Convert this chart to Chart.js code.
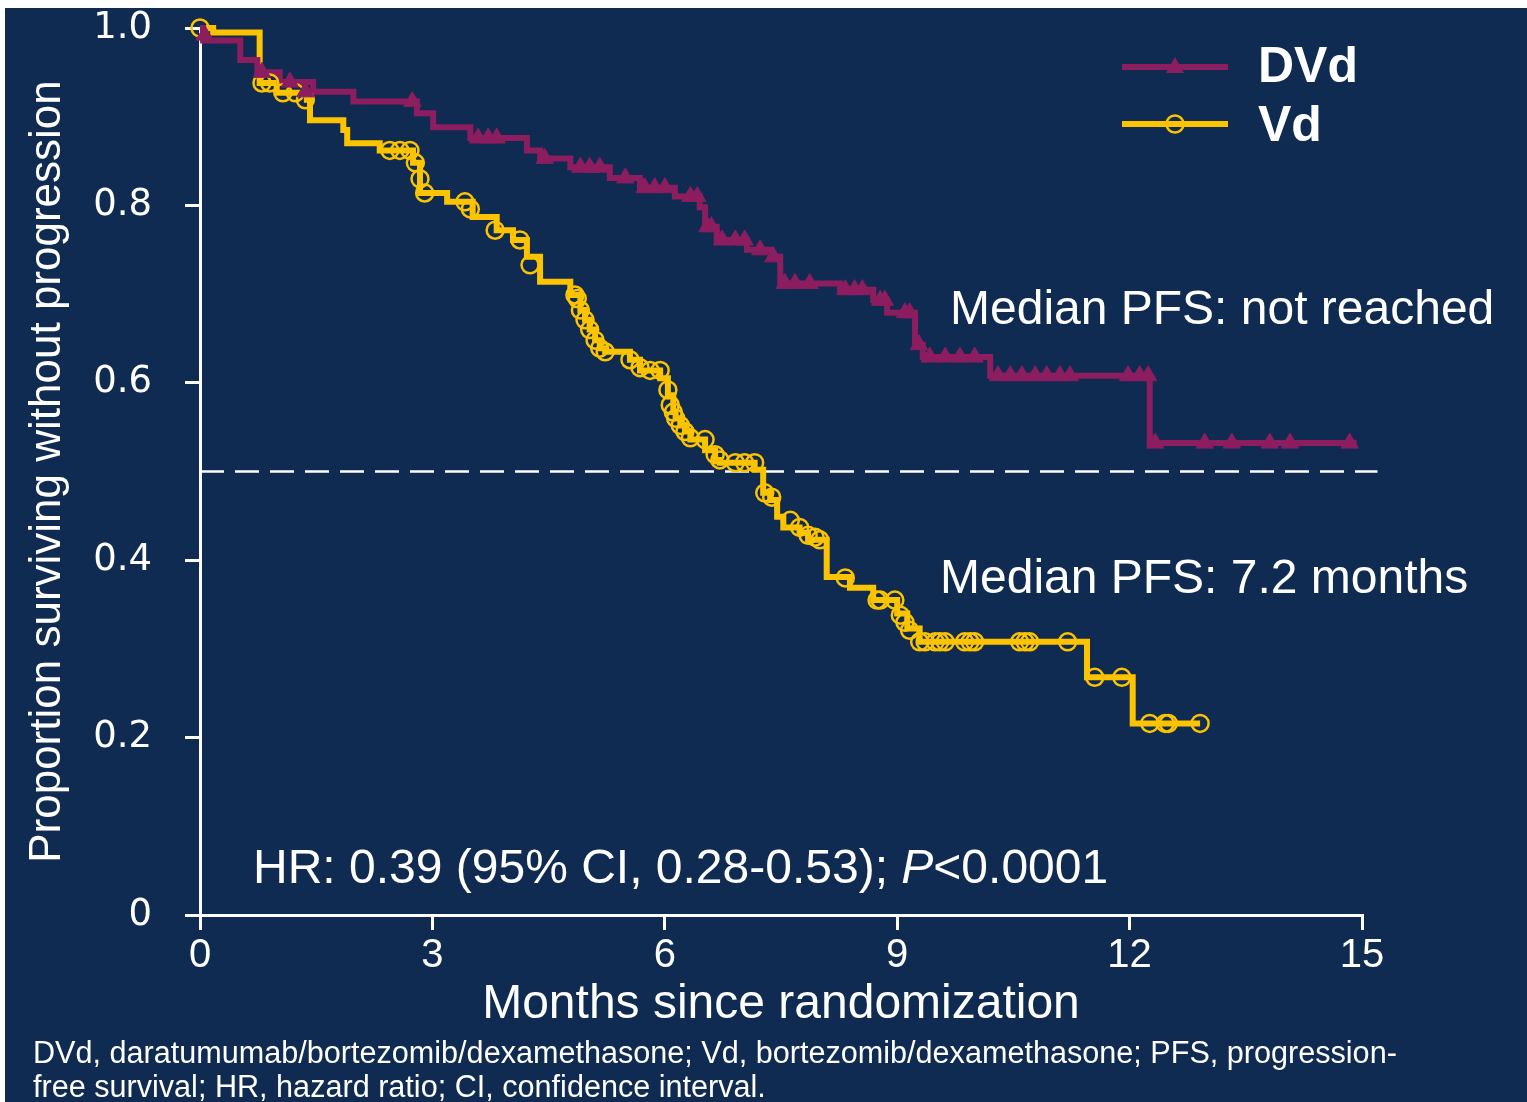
<!DOCTYPE html>
<html>
<head>
<meta charset="utf-8">
<script src="https://cdn.jsdelivr.net/npm/chart.js@4.4.1/dist/chart.umd.min.js"></script>
<style>
html,body{margin:0;padding:0;background:#ffffff;}
#wrap{position:relative;width:1527px;height:1102px;overflow:hidden;}
#bg{position:absolute;left:5px;top:8px;right:0;bottom:0;background:#102b52;}
#c{position:absolute;left:0;top:0;}
.t{position:absolute;color:#ffffff;font-family:"Liberation Sans",Arial,sans-serif;white-space:nowrap;}
.lgsvg{position:absolute;}
</style>
</head>
<body>
<div id="wrap">
  <div id="bg"></div>
  <canvas id="c" width="1527" height="1102"></canvas>
  <svg class="lgsvg" id="lgDVd" style="left:1120px;top:52px" width="112" height="30"></svg>
  <div class="t" style="left:1258px;top:40px;font-size:50px;line-height:50px;font-weight:bold;">DVd</div>
  <svg class="lgsvg" id="lgVd" style="left:1120px;top:109px" width="112" height="30"></svg>
  <div class="t" style="left:1258px;top:99px;font-size:50px;line-height:50px;font-weight:bold;">Vd</div>
  <div class="t" style="left:950px;top:284px;font-size:48px;line-height:48px;">Median PFS: not reached</div>
  <div class="t" style="left:940px;top:553px;font-size:48px;line-height:48px;">Median PFS: 7.2 months</div>
  <div class="t" style="left:253px;top:843px;font-size:48px;line-height:48px;">HR: 0.39 (95% CI, 0.28-0.53); <i>P</i>&lt;0.0001</div>
  <div class="t" style="left:33px;top:1035px;font-size:30.6px;line-height:34px;">DVd, daratumumab/bortezomib/dexamethasone; Vd, bortezomib/dexamethasone; PFS, progression-<br>free survival; HR, hazard ratio; CI, confidence interval.</div>
</div>
<script>
// ---- Data ----
const seriesNames = ['DVd', 'Vd'];

const dvdTimes = [0, 0.04, 0.52, 0.74, 1.03, 1.46, 1.98, 2.80, 3.01, 3.49, 4.22, 4.39, 4.78, 5.29, 5.68, 6.13, 6.45, 6.52, 6.67, 7.06, 7.38, 7.49, 8.26, 8.69, 8.87, 9.23, 9.33, 10.20, 12.26, 14.93];
const dvdSurv  = [1.000, 0.986, 0.964, 0.950, 0.939, 0.928, 0.917, 0.904, 0.888, 0.876, 0.862, 0.853, 0.843, 0.831, 0.820, 0.810, 0.798, 0.776, 0.761, 0.750, 0.742, 0.712, 0.705, 0.693, 0.679, 0.643, 0.629, 0.608, 0.532, 0.532];

const vdTimes = [0, 0.17, 0.77, 0.99, 1.38, 1.42, 1.85, 1.90, 2.32, 2.75, 2.84, 3.19, 3.52, 3.83, 4.04, 4.22, 4.39, 4.78, 4.91, 4.97, 5.03, 5.10, 5.16, 5.23, 5.55, 5.68, 5.94, 6.04, 6.11, 6.14, 6.20, 6.26, 6.33, 6.52, 6.65, 6.71, 7.16, 7.27, 7.36, 7.45, 7.53, 7.74, 7.85, 8.09, 8.39, 8.69, 9.00, 9.13, 9.29, 11.45, 12.04, 12.91];
const vdSurv  = [1.000, 0.995, 0.938, 0.927, 0.919, 0.896, 0.885, 0.870, 0.862, 0.848, 0.814, 0.804, 0.787, 0.772, 0.761, 0.742, 0.714, 0.699, 0.682, 0.671, 0.660, 0.648, 0.639, 0.635, 0.626, 0.614, 0.605, 0.586, 0.567, 0.560, 0.552, 0.545, 0.536, 0.524, 0.513, 0.510, 0.502, 0.476, 0.468, 0.449, 0.437, 0.431, 0.423, 0.381, 0.369, 0.355, 0.340, 0.323, 0.308, 0.268, 0.216, 0.216];

const dvdCensorT = [0.06, 0.80, 1.16, 1.36, 2.74, 3.59, 3.72, 3.83, 4.45, 4.91, 5.03, 5.16, 5.49, 5.74, 5.87, 6.00, 6.33, 6.42, 6.55, 6.60, 6.74, 6.91, 7.03, 7.23, 7.40, 7.55, 7.68, 7.87, 8.33, 8.45, 8.55, 8.78, 8.84, 9.10, 9.16, 9.28, 9.42, 9.62, 9.81, 10.00, 10.30, 10.46, 10.61, 10.78, 10.93, 11.10, 11.23, 11.98, 12.13, 12.24, 12.33, 12.97, 13.32, 13.81, 14.07, 14.84];
const dvdCensorS = [0.992, 0.950, 0.939, 0.928, 0.917, 0.876, 0.876, 0.876, 0.853, 0.843, 0.843, 0.843, 0.831, 0.820, 0.820, 0.820, 0.810, 0.810, 0.776, 0.776, 0.761, 0.761, 0.761, 0.750, 0.742, 0.712, 0.712, 0.712, 0.705, 0.705, 0.705, 0.693, 0.693, 0.679, 0.679, 0.643, 0.629, 0.629, 0.629, 0.629, 0.608, 0.608, 0.608, 0.608, 0.608, 0.608, 0.608, 0.608, 0.608, 0.608, 0.532, 0.532, 0.532, 0.532, 0.532, 0.532];

const vdCensorT = [0.00, 0.80, 0.90, 1.07, 1.23, 1.36, 2.45, 2.58, 2.71, 2.78, 2.84, 2.90, 3.42, 3.49, 3.81, 4.13, 4.26, 4.84, 4.87, 4.91, 4.97, 5.03, 5.10, 5.16, 5.23, 5.55, 5.68, 5.81, 5.94, 6.04, 6.07, 6.11, 6.14, 6.20, 6.26, 6.33, 6.52, 6.65, 6.71, 6.91, 7.03, 7.16, 7.29, 7.38, 7.62, 7.74, 7.85, 7.94, 8.00, 8.33, 8.74, 8.78, 8.97, 9.04, 9.10, 9.16, 9.29, 9.36, 9.49, 9.55, 9.62, 9.87, 9.94, 10.00, 10.58, 10.65, 10.71, 11.20, 11.55, 11.90, 12.26, 12.46, 12.50, 12.91];
const vdCensorS = [1.000, 0.938, 0.938, 0.927, 0.927, 0.919, 0.862, 0.862, 0.862, 0.848, 0.830, 0.814, 0.804, 0.796, 0.772, 0.761, 0.733, 0.699, 0.695, 0.682, 0.671, 0.660, 0.648, 0.639, 0.635, 0.626, 0.617, 0.614, 0.614, 0.592, 0.575, 0.567, 0.560, 0.552, 0.545, 0.538, 0.536, 0.519, 0.513, 0.510, 0.510, 0.510, 0.476, 0.471, 0.445, 0.437, 0.428, 0.426, 0.423, 0.380, 0.355, 0.355, 0.355, 0.338, 0.330, 0.321, 0.308, 0.308, 0.308, 0.308, 0.308, 0.308, 0.308, 0.308, 0.308, 0.308, 0.308, 0.308, 0.268, 0.268, 0.216, 0.216, 0.216, 0.216];

const medianRefX = [0, 15.2];
const medianRefY = [0.5, 0.5];

const xTickValues = [0, 3, 6, 9, 12, 15];
const xTickLabels = ['0', '3', '6', '9', '12', '15'];
const yTickValues = [0, 0.2, 0.4, 0.6, 0.8, 1.0];
const yTickLabels = ['0', '0.2', '0.4', '0.6', '0.8', '1.0'];

// ---- Styles ----
const DVD_COLOR = '#8c1d5f';
const VD_COLOR = '#fcc300';
const WHITE = '#ffffff';
const ARIAL = '"Liberation Sans", Arial, sans-serif';

const toPts = (xs, ys) => xs.map((x, i) => ({x: x, y: ys[i]}));
const labelFor = (vals, labs, v) => {
  const i = vals.findIndex(t => Math.abs(t - v) < 1e-6);
  return i >= 0 ? labs[i] : '';
};

// legend samples
function legendSample(id, color, shape) {
  const svg = document.getElementById(id);
  const ns = 'http://www.w3.org/2000/svg';
  const line = document.createElementNS(ns, 'line');
  line.setAttribute('x1', 2); line.setAttribute('x2', 108);
  line.setAttribute('y1', 15); line.setAttribute('y2', 15);
  line.setAttribute('stroke', color); line.setAttribute('stroke-width', 6);
  svg.appendChild(line);
  if (shape === 'triangle') {
    const p = document.createElementNS(ns, 'polygon');
    p.setAttribute('points', '55,5 64,21 46,21');
    p.setAttribute('fill', color);
    svg.appendChild(p);
  } else {
    const c = document.createElementNS(ns, 'circle');
    c.setAttribute('cx', 55); c.setAttribute('cy', 15); c.setAttribute('r', 8.5);
    c.setAttribute('fill', 'none'); c.setAttribute('stroke', color); c.setAttribute('stroke-width', 2.5);
    svg.appendChild(c);
  }
}
legendSample('lgDVd', DVD_COLOR, 'triangle');
legendSample('lgVd', VD_COLOR, 'circle');

new Chart(document.getElementById('c'), {
  type: 'line',
  data: {
    datasets: [
      {
        label: seriesNames[0] + ' censored',
        data: toPts(dvdCensorT, dvdCensorS),
        showLine: false,
        pointStyle: 'triangle',
        pointRadius: 10,
        backgroundColor: DVD_COLOR,
        borderColor: DVD_COLOR,
        borderWidth: 1,
        clip: false
      },
      {
        label: seriesNames[1] + ' censored',
        data: toPts(vdCensorT, vdCensorS),
        showLine: false,
        pointStyle: 'circle',
        pointRadius: 8.5,
        backgroundColor: 'rgba(0,0,0,0)',
        borderColor: VD_COLOR,
        borderWidth: 2.5,
        clip: false
      },
      {
        label: seriesNames[0],
        data: toPts(dvdTimes, dvdSurv),
        stepped: 'before',
        borderColor: DVD_COLOR,
        borderWidth: 6,
        pointRadius: 0,
        fill: false,
        clip: false
      },
      {
        label: seriesNames[1],
        data: toPts(vdTimes, vdSurv),
        stepped: 'before',
        borderColor: VD_COLOR,
        borderWidth: 6,
        pointRadius: 0,
        fill: false,
        clip: false
      },
      {
        label: 'Median',
        data: toPts(medianRefX, medianRefY),
        borderColor: WHITE,
        borderWidth: 2.5,
        borderDash: [24, 11],
        pointRadius: 0,
        fill: false,
        clip: false
      }
    ]
  },
  options: {
    responsive: false,
    animation: false,
    events: [],
    layout: {padding: {top: 28, right: 165, left: 0, bottom: 0}},
    plugins: {legend: {display: false}, tooltip: {enabled: false}},
    scales: {
      x: {
        type: 'linear',
        min: 0, max: 15,
        afterBuildTicks: s => { s.ticks = xTickValues.map(v => ({value: v})); },
        afterFit: s => { s.height = 187; },
        grid: {display: true, drawOnChartArea: false, drawTicks: true, tickLength: 15, color: WHITE, lineWidth: 3},
        border: {display: true, color: WHITE, width: 3},
        ticks: {
          color: WHITE, padding: 2, maxRotation: 0, autoSkip: false,
          font: {family: ARIAL, size: 40},
          callback: v => labelFor(xTickValues, xTickLabels, v)
        },
        title: {
          display: true, text: 'Months since randomization', color: WHITE,
          font: {family: ARIAL, size: 48}, padding: {top: 0, bottom: 68}
        }
      },
      y: {
        type: 'linear',
        min: 0, max: 1,
        afterBuildTicks: s => { s.ticks = yTickValues.map(v => ({value: v})); },
        afterFit: s => { s.width = 200; s.paddingTop = 0; s.paddingBottom = 0; },
        grid: {display: true, drawOnChartArea: false, drawTicks: true, tickLength: 15, color: WHITE, lineWidth: 3},
        border: {display: true, color: WHITE, width: 3},
        ticks: {
          color: WHITE, padding: 33,
          font: {family: '"DejaVu Sans", Verdana, sans-serif', size: 37},
          callback: v => labelFor(yTickValues, yTickLabels, v)
        },
        title: {
          display: true, text: 'Proportion surviving without progression', color: WHITE,
          font: {family: ARIAL, size: 44}, padding: {top: 21, bottom: 0}
        }
      }
    }
  }
});
</script>
</body>
</html>
